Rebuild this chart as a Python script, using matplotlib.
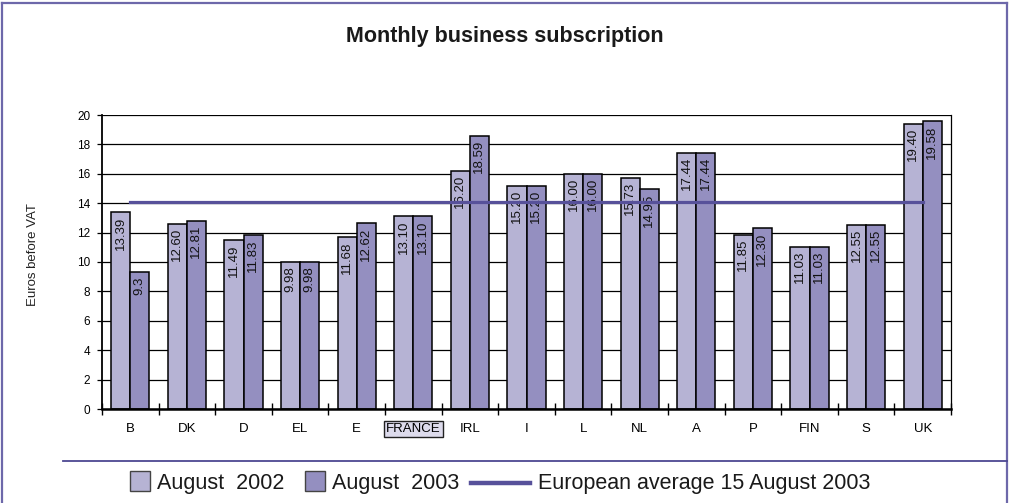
import matplotlib
matplotlib.use("Agg")
import matplotlib.pyplot as plt
from matplotlib.patches import Rectangle
from matplotlib.lines import Line2D
import numpy as np

plt.rcParams['font.family'] = ['Liberation Sans', 'DejaVu Sans']

# Monthly business subscription, euros before VAT
countries = ["B", "DK", "D", "EL", "E", "FRANCE", "IRL", "I", "L", "NL",
             "A", "P", "FIN", "S", "UK"]
aug_2002 = [13.39, 12.60, 11.49, 9.98, 11.68, 13.10, 16.20, 15.20, 16.00,
            15.73, 17.44, 11.85, 11.03, 12.55, 19.40]
aug_2003 = [9.3, 12.81, 11.83, 9.98, 12.62, 13.10, 18.59, 15.20, 16.00,
            14.95, 17.44, 12.30, 11.03, 12.55, 19.58]
decimals_2003 = [1] + [2] * 14
eu_average = 14.1
yticks = list(range(0, 21, 2))
series_names = ["August  2002", "August  2003", "European average 15 August 2003"]

LIGHT = "#b6b3d4"
DARK = "#948fc0"
AVG = "#57519a"
FRAME = "#6d68aa"

W, H = 1010, 503
fig = plt.figure(figsize=(W / 100, H / 100), dpi=100)


def fx(px):
    return px / W


def fy(py):
    return 1 - py / H


ax = fig.add_axes([fx(102), fy(409), fx(951) - fx(102), fy(115) - fy(409)])

x = np.arange(len(countries))
w = 0.336
ax.bar(x - w / 2, aug_2002, w, color=LIGHT, edgecolor="black", linewidth=1.1, zorder=2)
ax.bar(x + w / 2, aug_2003, w, color=DARK, edgecolor="black", linewidth=1.1, zorder=2)

for xi, v in zip(x, aug_2002):
    ax.annotate(f"{v:.2f}", (xi - w / 2, v), xytext=(0, -3), textcoords="offset points",
                rotation=90, ha="center", va="top", fontsize=9.5, color="#111111", zorder=5)
for xi, v, d in zip(x, aug_2003, decimals_2003):
    ax.annotate(f"{v:.{d}f}", (xi + w / 2, v), xytext=(0, -3), textcoords="offset points",
                rotation=90, ha="center", va="top", fontsize=9.5, color="#111111", zorder=5)

# European average line from first to last country
ax.plot([x[0], x[-1]], [eu_average, eu_average], color=AVG, linewidth=2.3, zorder=6)

ax.set_xlim(-0.5, len(countries) - 0.5)
ax.set_ylim(0, 20)
ax.set_yticks(yticks)
ax.yaxis.grid(True, color="black", linewidth=0.9)
ax.set_axisbelow(True)
ax.tick_params(axis="y", direction="out", length=3.5, width=0.9, pad=5, labelsize=8.5)

ax.set_xticks(x)
ax.set_xticklabels(countries, fontsize=9.5)
ax.set_xticks(np.arange(-0.5, len(countries)), minor=True)
ax.tick_params(axis="x", which="major", length=0, pad=10)
ax.tick_params(axis="x", which="minor", direction="inout", length=9, width=1.0)

for lbl in ax.get_xticklabels():
    if lbl.get_text() == "FRANCE":
        lbl.set_bbox(dict(boxstyle="square,pad=0.15", facecolor="#dddbec",
                          edgecolor="#222222", linewidth=1.0))

ax.spines["top"].set_visible(False)
ax.spines["left"].set_linewidth(1.3)
ax.spines["right"].set_linewidth(0.9)
ax.spines["bottom"].set_linewidth(1.8)

fig.text(fx(33), fy(255), "Euros before VAT", rotation=90, ha="center", va="center",
         fontsize=9.5, color="#222222")

fig.text(fx(505), fy(37), "Monthly business subscription", ha="center", va="center",
         fontsize=15.5, fontweight="bold", color="#1a1a1a")

# Outer frame and separator
fig.add_artist(Line2D([fx(2), fx(2)], [0, fy(3)], color=FRAME, linewidth=1.6))
fig.add_artist(Line2D([fx(2), fx(1007)], [fy(3), fy(3)], color=FRAME, linewidth=1.6))
fig.add_artist(Line2D([fx(1007), fx(1007)], [0, fy(3)], color=FRAME, linewidth=1.6))
fig.add_artist(Line2D([fx(63), fx(1007)], [fy(461), fy(461)], color="#4d4892", linewidth=1.3))

# Legend
ly = 483
fig.add_artist(Rectangle((fx(130), fy(491)), fx(20), 20 / H, facecolor=LIGHT,
                         edgecolor="#444444", linewidth=1.0))
fig.text(fx(157), fy(ly), series_names[0], ha="left", va="center", fontsize=15.5, color="#1a1a1a")
fig.add_artist(Rectangle((fx(305), fy(491)), fx(20), 20 / H, facecolor=DARK,
                         edgecolor="#444444", linewidth=1.0))
fig.text(fx(332), fy(ly), series_names[1], ha="left", va="center", fontsize=15.5, color="#1a1a1a")
fig.add_artist(Line2D([fx(471), fx(530)], [fy(ly), fy(ly)], color=AVG, linewidth=3.2))
fig.text(fx(538), fy(ly), series_names[2], ha="left", va="center", fontsize=15.5, color="#1a1a1a")

fig.savefig("out.png", dpi=100)
